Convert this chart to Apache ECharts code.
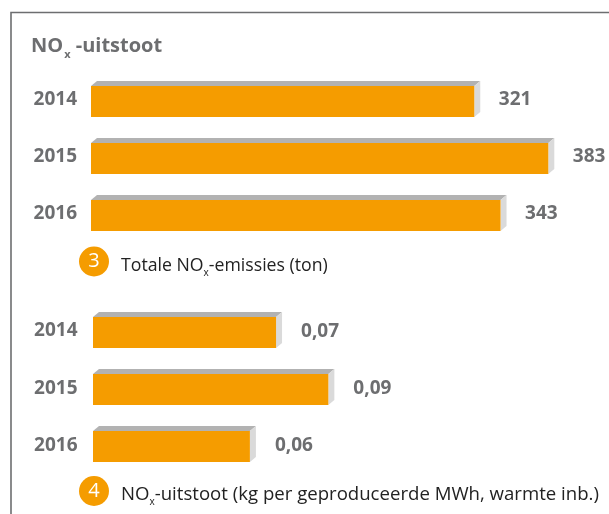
<!DOCTYPE html>
<html><head><meta charset="utf-8">
<style>html,body{margin:0;padding:0;background:#fff}#c{width:609px;height:514px}</style>
<script src="https://cdn.jsdelivr.net/npm/echarts@6/dist/echarts.min.js"></script>
</head><body><div id="c"></div>
<script>
const years = ['2014','2015','2016'];
const totalNox = [321,383,343];
const totalLabels = ['321','383','343'];
const perMwh = [0.07,0.09,0.06];
const perMwhLabels = ['0,07','0,09','0,06'];
const FONT = '"Open Sans", sans-serif';
const GREY = '#6d6e70', ORANGE = '#f59c00';

function render3d(labels, gap, dyLabel){
  return function(params, api){
    const i = api.value(1);
    const end = api.coord([api.value(0), i]);
    const start = api.coord([0, i]);
    const h = 31, dx = 6, dy = 5;
    const x0 = start[0], x1 = end[0], y0 = Math.round(end[1]-h/2), y1 = y0+h;
    return {type:'group', children:[
      {type:'polygon', shape:{points:[[x0,y0],[x0+dx,y0-dy],[x1+dx,y0-dy],[x1,y0]]}, style:{fill:'#b2b2b2'}},
      {type:'polygon', shape:{points:[[x1,y0],[x1+dx,y0-dy],[x1+dx,y1-dy],[x1,y1]]}, style:{fill:'#dadada'}},
      {type:'rect', shape:{x:x0,y:y0,width:x1-x0,height:h}, style:{fill:ORANGE}},
      {type:'text', x:x1+gap, y:(y0+y1)/2+dyLabel, style:{text:labels[i], fill:GREY, font:'bold 19px '+FONT, textAlign:'left', textVerticalAlign:'middle'}}
    ]};
  };
}
const catAxis = (grid, margin, lh) => ({
  type:'category', gridIndex:grid, data:years, inverse:true,
  axisLine:{show:false}, axisTick:{show:false}, splitLine:{show:false},
  axisLabel:{color:GREY, fontFamily:FONT, fontWeight:'bold', fontSize:19, margin:margin, verticalAlign:'bottom', lineHeight:lh}
});
const valAxis = (grid, max) => ({
  type:'value', gridIndex:grid, min:0, max:max, show:false, splitLine:{show:false}
});
const capRich = size => ({
  t:{fontFamily:FONT, fontSize:size, fill:'#222'},
  s:{fontFamily:FONT, fontSize:10, fill:'#222', padding:[14,0,0,0]}
});
const option = {
  animation:false, backgroundColor:'#fff',
  grid:[
    {left:91, top:73, width:477.6, height:171, containLabel:false},
    {left:93, top:303.5, width:470.7, height:171.5, containLabel:false}
  ],
  xAxis:[valAxis(0,400), valAxis(1,0.18)],
  yAxis:[catAxis(0,14,4), catAxis(1,15.5,2)],
  series:[
    {type:'custom', name:'Totale NOx-emissies (ton)', xAxisIndex:0, yAxisIndex:0, coordinateSystem:'cartesian2d',
     renderItem:render3d(totalLabels,24.5,-2), encode:{x:0,y:1}, data:totalNox.map((v,i)=>[v,i])},
    {type:'custom', name:'NOx-uitstoot (kg per geproduceerde MWh, warmte inb.)', xAxisIndex:1, yAxisIndex:1, coordinateSystem:'cartesian2d',
     renderItem:render3d(perMwhLabels,25,-1), encode:{x:0,y:1}, data:perMwh.map((v,i)=>[v,i])}
  ],
  graphic:[
    {type:'polyline', shape:{points:[[11,514],[11,12.5],[609,12.5]]}, style:{stroke:GREY, lineWidth:1.6, fill:null}},
    {type:'text', x:31, y:33, style:{
      text:'{a|NO}{b|x}{a| -uitstoot}',
      rich:{a:{fontFamily:FONT,fontWeight:'bold',fontSize:20,fill:GREY},
            b:{fontFamily:FONT,fontWeight:'bold',fontSize:11,fill:GREY,padding:[16,0,0,1]}}
    }},
    {type:'circle', shape:{cx:94,cy:261.5,r:15}, style:{fill:ORANGE}},
    {type:'text', x:94, y:261.5, style:{text:'3', fill:'#fff', font:'20px '+FONT, textAlign:'center', textVerticalAlign:'middle'}},
    {type:'text', x:121, y:254, style:{text:'{t|Totale NO}{s|x}{t|-emissies (ton)}', rich:capRich(17.7)}},
    {type:'circle', shape:{cx:94,cy:491,r:15}, style:{fill:ORANGE}},
    {type:'text', x:94, y:491, style:{text:'4', fill:'#fff', font:'20px '+FONT, textAlign:'center', textVerticalAlign:'middle'}},
    {type:'text', x:121, y:483, style:{text:'{t|NO}{s|x}{t|-uitstoot (kg per geproduceerde MWh, warmte inb.)}', rich:capRich(18.6)}}
  ]
};
echarts.init(document.getElementById('c'),null,{renderer:'canvas'}).setOption(option);
</script></body></html>
